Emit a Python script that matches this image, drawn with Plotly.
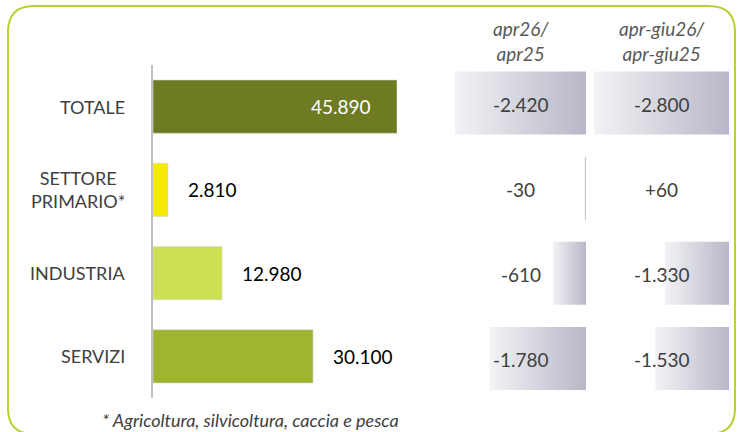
import plotly.graph_objects as go

# ---------------- data ----------------
categories = ["TOTALE", "SETTORE<br>PRIMARIO*", "INDUSTRIA", "SERVIZI"]
stock_values = [45890, 2810, 12980, 30100]
var_month = [-2420, -30, -610, -1780]          # apr26/apr25
var_quarter = [-2800, 60, -1330, -1530]        # apr-giu26/apr-giu25
col_headers = ["<i>apr26/<br>apr25</i>", "<i>apr-giu26/<br>apr-giu25</i>"]
footnote = "* Agricoltura, silvicoltura, caccia e pesca"

# ---------------- styles ----------------
W, H = 738, 432
bar_colors = ["#6e7b23", "#f5ea00", "#cde052", "#a0b42f"]
FONT = "Lato"
GRAD = [[0, "rgb(243,243,246)"], [1, "rgb(183,183,199)"]]


def px(x):
    return x / W


def py(y):
    return 1 - y / H


def fmt(v, sign=False):
    s = f"{abs(v):,}".replace(",", ".")
    if v < 0:
        return "-" + s
    return ("+" + s) if sign else s


fig = go.Figure()

# left bars
ys = list(range(len(categories)))
fig.add_trace(go.Bar(
    x=stock_values, y=ys, orientation="h",
    marker=dict(color=bar_colors, line=dict(width=0.6, color="#d6d6d6")),
    width=0.64, xaxis="x", yaxis="y", hoverinfo="skip", showlegend=False,
))

# table gradient boxes
HH = 0.37
for axis, vals in (("x2", var_month), ("x3", var_quarter)):
    for i, v in enumerate(vals):
        fig.add_trace(go.Scatter(
            x=[v, 0, 0, v, v], y=[i - HH, i - HH, i + HH, i + HH, i - HH],
            mode="lines", fill="toself", line=dict(width=0),
            fillcolor="rgb(215,215,225)",
            fillgradient=dict(type="horizontal", colorscale=GRAD),
            xaxis=axis, yaxis="y2", hoverinfo="skip", showlegend=False,
        ))

annotations = []
# category labels
for i, c in enumerate(categories):
    annotations.append(dict(
        x=px(127), xref="paper", y=i, yref="y", text=c, showarrow=False,
        xanchor="right", yanchor="middle", align="center",
        font=dict(family=FONT, size=18, color="#404040"),
    ))
# value labels for bars
vmax = max(stock_values)
for i, v in enumerate(stock_values):
    if v == vmax:
        annotations.append(dict(
            x=v, xref="x", y=i, yref="y", text=fmt(v), showarrow=False,
            xanchor="right", yanchor="middle", xshift=-24,
            font=dict(family=FONT, size=19, color="#ffffff"),
        ))
    else:
        annotations.append(dict(
            x=v, xref="x", y=i, yref="y", text=fmt(v), showarrow=False,
            xanchor="left", yanchor="middle", xshift=18,
            font=dict(family=FONT, size=19, color="#000000"),
        ))
# table values
for axis, vals in (("x2", var_month), ("x3", var_quarter)):
    for i, v in enumerate(vals):
        annotations.append(dict(
            x=0.5, xref=f"{axis} domain", y=i, yref="y2", text=fmt(v, sign=True),
            showarrow=False, xanchor="center", yanchor="middle", yshift=-1,
            font=dict(family=FONT, size=19, color="#404040"),
        ))
# headers
for axis, h in (("x2", col_headers[0]), ("x3", col_headers[1])):
    annotations.append(dict(
        x=0.5, xref=f"{axis} domain", y=py(41), yref="paper", text=h,
        showarrow=False, xanchor="center", yanchor="middle",
        font=dict(family=FONT, size=19, color="#595959"),
    ))
# footnote
annotations.append(dict(
    x=px(250), xref="paper", y=py(420), yref="paper", text=f"<i>{footnote}</i>",
    showarrow=False, xanchor="center", yanchor="middle",
    font=dict(family=FONT, size=18, color="#404040"),
))

# rounded border
L, R, T, B, r = 8, 735, 6, 434, 26
path = (
    f"M {px(L + r)},{py(T)} L {px(R - r)},{py(T)} "
    f"Q {px(R)},{py(T)} {px(R)},{py(T + r)} "
    f"L {px(R)},{py(B - r)} Q {px(R)},{py(B)} {px(R - r)},{py(B)} "
    f"L {px(L + r)},{py(B)} Q {px(L)},{py(B)} {px(L)},{py(B - r)} "
    f"L {px(L)},{py(T + r)} Q {px(L)},{py(T)} {px(L + r)},{py(T)} Z"
)

fig.update_layout(
    width=W, height=H, margin=dict(l=0, r=0, t=0, b=0),
    paper_bgcolor="white", plot_bgcolor="rgba(0,0,0,0)",
    font=dict(family=FONT),
    bargap=0.36,
    xaxis=dict(domain=[px(153), px(397)], range=[0, vmax], visible=False, fixedrange=True),
    yaxis=dict(domain=[py(398), py(65)], range=[3.5, -0.5], showticklabels=False,
               showgrid=False, zeroline=False, showline=True, linecolor="#c0c0c0",
               linewidth=2, ticks="", anchor="x", fixedrange=True),
    xaxis2=dict(domain=[px(455), px(586)], range=[min(var_month), 0], visible=False,
                anchor="y2", fixedrange=True),
    xaxis3=dict(domain=[px(594), px(729)], range=[min(var_quarter), 0], visible=False,
                anchor="y2", fixedrange=True),
    yaxis2=dict(domain=[py(401), py(60.5)], range=[3.5, -0.5], visible=False,
                anchor="x2", fixedrange=True),
    annotations=annotations,
    shapes=[dict(type="path", path=path, xref="paper", yref="paper",
                 line=dict(color="#b5d334", width=2), layer="above")],
)

fig.write_html(
    "out.html",
    config={"displayModeBar": False},
    post_script="document.body.style.margin='0px';document.body.style.overflow='hidden';",
)
